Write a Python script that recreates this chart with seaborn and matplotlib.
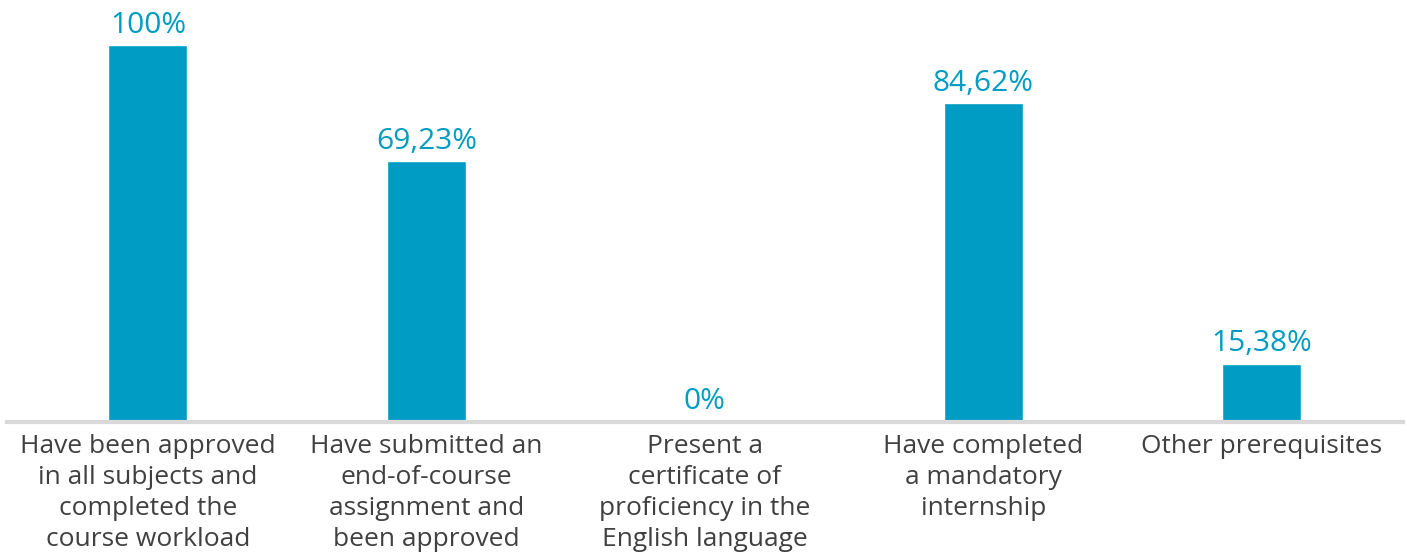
import matplotlib
matplotlib.use("Agg")
import matplotlib.pyplot as plt
import seaborn as sns
import pandas as pd

categories = [
    "Have been approved\nin all subjects and\ncompleted the\ncourse workload",
    "Have submitted an\nend-of-course\nassignment and\nbeen approved",
    "Present a\ncertificate of\nproficiency in the\nEnglish language",
    "Have completed\na mandatory\ninternship",
    "Other prerequisites",
]
values = [100, 69.23, 0, 84.62, 15.38]

BAR_COLOR = "#009cc3"
TEXT_COLOR = "#404040"

sns.set_theme(style="white")
plt.rcParams["font.family"] = ["Open Sans", "DejaVu Sans"]

df = pd.DataFrame({"category": categories, "value": values})

fig = plt.figure(figsize=(14.07, 5.57), dpi=100)
ax = fig.add_axes([0.005, 0.2424, 0.992, 0.7576])

sns.barplot(data=df, x="category", y="value", color=BAR_COLOR,
            saturation=1, width=0.284, ax=ax)

ax.set_xlim(-0.506, 4.506)
ax.set_ylim(0, 112)


def fmt(v):
    if float(v).is_integer():
        return f"{int(v)}%"
    return f"{v:.2f}".replace(".", ",") + "%"


ax.bar_label(ax.containers[0], labels=[fmt(v) for v in values],
             padding=4, fontsize=21.5, color=BAR_COLOR)

for side in ("left", "right", "top"):
    ax.spines[side].set_visible(False)
ax.spines["bottom"].set_color("#d9d9d9")
ax.spines["bottom"].set_linewidth(3)

ax.set_yticks([])
ax.set_xlabel("")
ax.set_ylabel("")
ax.tick_params(axis="x", length=0, pad=9, labelsize=19, labelcolor=TEXT_COLOR)
for lbl in ax.get_xticklabels():
    lbl.set_linespacing(1.31)
    lbl.set_horizontalalignment("center")

fig.savefig("out.png", dpi=100, facecolor="white")
